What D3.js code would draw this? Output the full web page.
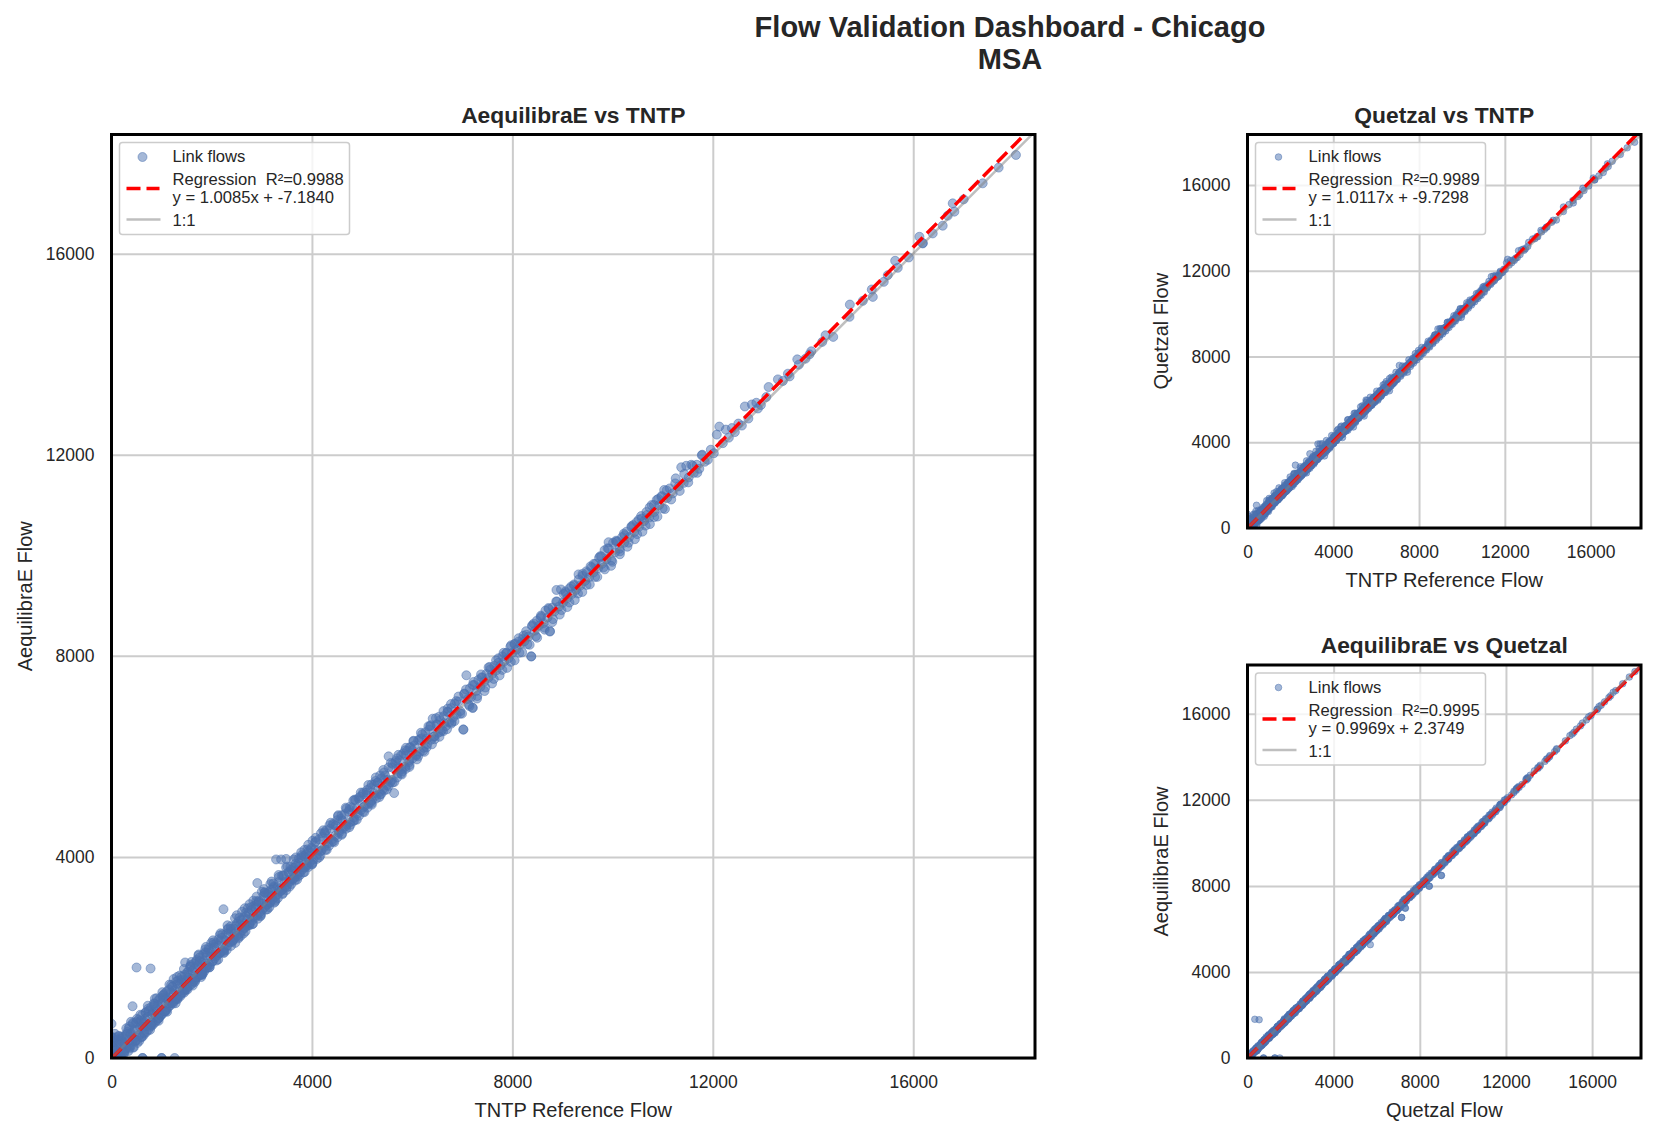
<!DOCTYPE html>
<html>
<head>
<meta charset="utf-8">
<script src="https://cdnjs.cloudflare.com/ajax/libs/d3/7.8.5/d3.min.js"></script>
<style>
  html, body { margin: 0; padding: 0; background: #fff; }
  text { font-family: "Liberation Sans", Arial, sans-serif; fill: #262626; white-space: pre; }
</style>
</head>
<body>
<svg id="chart" width="1655" height="1136"></svg>
<script>
// flows, one entry per link, same order in all three lists
var tntpFlow = [
  10, 30, 45, 60, 80, 95, 110, 130, 150, 165,
  180, 195, 215, 230, 250, 265, 285, 300, 320, 340,
  355, 375, 390, 410, 430, 445, 465, 480, 500, 520,
  535, 555, 570, 590, 610, 625, 645, 660, 680, 700,
  715, 735, 750, 770, 790, 805, 825, 840, 860, 880,
  895, 915, 930, 950, 970, 985, 1005, 1020, 1040, 1060,
  1075, 1095, 1110, 1130, 1150, 1165, 1185, 1200, 1220, 1240,
  1255, 1275, 1290, 1310, 1330, 1345, 1365, 1380, 1400, 1420,
  1435, 1455, 1470, 1490, 1510, 1525, 1545, 1560, 1580, 1600,
  1615, 1635, 1650, 1670, 1690, 1705, 1725, 1740, 1760, 1780,
  1795, 1815, 1830, 1850, 1870, 1885, 1905, 1920, 1940, 1960,
  1985, 2010, 2035, 2060, 2085, 2110, 2135, 2160, 2185, 2210,
  2235, 2260, 2285, 2310, 2335, 2360, 2385, 2410, 2435, 2460,
  2485, 2510, 2535, 2560, 2585, 2610, 2635, 2660, 2685, 2710,
  2735, 2760, 2785, 2810, 2835, 2860, 2885, 2910, 2935, 2960,
  2985, 3010, 3035, 3060, 3085, 3110, 3135, 3160, 3185, 3210,
  3235, 3260, 3285, 3310, 3335, 3360, 3385, 3410, 3435, 3460,
  3485, 3510, 3535, 3560, 3585, 3610, 3635, 3660, 3685, 3710,
  3735, 3760, 3785, 3810, 3835, 3860, 3885, 3910, 3935, 3960,
  3990, 4030, 4065, 4100, 4140, 4175, 4210, 4250, 4285, 4320,
  4360, 4395, 4430, 4470, 4505, 4540, 4580, 4615, 4650, 4690,
  4725, 4760, 4800, 4835, 4870, 4910, 4945, 4980, 5020, 5055,
  5090, 5130, 5165, 5200, 5240, 5275, 5310, 5350, 5385, 5420,
  5460, 5495, 5530, 5570, 5605, 5640, 5680, 5715, 5750, 5790,
  5825, 5860, 5900, 5935, 5970, 6010, 6045, 6080, 6120, 6155,
  6190, 6230, 6265, 6300, 6340, 6375, 6410, 6450, 6485, 6520,
  6560, 6595, 6630, 6670, 6705, 6740, 6780, 6815, 6850, 6890,
  6925, 6960, 7022, 7022, 7040, 7082, 7110, 7150, 7208, 7208,
  7180, 7240, 7280, 7320, 7360, 7400, 7440, 7480, 7520, 7560,
  7600, 7640, 7680, 7720, 7760, 7800, 7840, 7880, 7920, 7960,
  8000, 8040, 8080, 8120, 8160, 8200, 8240, 8280, 8320, 8377,
  8377, 8400, 8450, 8490, 8530, 8570, 8620, 8660, 8700, 8750,
  8750, 8800, 8840, 8880, 8930, 8970, 9010, 9060, 9100, 9140,
  9190, 9230, 9270, 9320, 9360, 9400, 9450, 9490, 9530, 9580,
  9620, 9660, 9710, 9750, 9790, 9840, 9880, 9920, 9970, 10010,
  10050, 10100, 10140, 10190, 10230, 10280, 10330, 10380, 10430, 10480,
  10530, 10580, 10630, 10680, 10730, 10780, 10830, 10880, 10930, 10980,
  11030, 11090, 11140, 11200, 11260, 11320, 11370, 11420, 11470, 11520,
  11570, 11620, 11680, 11730, 11790, 11840, 11900, 11960, 12020, 12080,
  12130, 12200, 12260, 12320, 12380, 12440, 12510, 12580, 12640, 12710,
  12780, 12869, 12900, 12960, 13068, 13114, 13299, 13399, 13499, 13533,
  13686, 13718, 13851, 13931, 13965, 14184, 14250, 14403, 14728, 14735,
  14994, 15173, 15193, 15412, 15492, 15639, 15691, 15911, 16123, 16190,
  16190, 16389, 16588, 16688, 16788, 16821, 17007, 17386, 17705, 18050,
  0, 0, 500, 780, 620, 1000, 1260, 420, 620, 1000,
  // links on the edges of the band
  40, 120, 210, 300, 390, 470, 560, 640, 730, 810,
  900, 980, 1070, 1150, 1240, 1320, 1400, 1490, 1570, 1660,
  1740, 1820, 1910, 1990, 2080, 2160, 2240, 2330, 2410, 2500,
  2580, 2660, 2750, 2830, 2920, 3000, 3080, 3170, 3250, 3340,
  3420, 3510, 3590, 3680, 3760, 3850, 3930, 4010, 4100, 4180,
  4270, 4350, 4430, 4520, 4600, 4690, 4770, 4850, 4940, 5020,
  5110, 5190, 5280, 5360, 5440, 5530, 5610, 5700, 5780, 5860,
  5950, 6030, 6120, 6200, 6290, 6370, 6450, 6540, 6620, 6710,
  6790, 6880, 6960, 7040, 7130, 7210, 7300, 7380, 7460, 7550,
  7630, 7720, 7800, 7880, 7970, 8050, 8140, 8220, 8300, 8390,
  8470, 8560, 8640, 8720, 8810, 8890, 8980, 9060, 9140, 9230,
  9310, 9400, 9480, 9560, 9650, 9730, 9820, 9900, 9980, 10070,
  10150, 10240, 10320, 10410, 10490, 10570, 10660, 10740, 10830, 10910,
  11000, 11080, 11170, 11250, 11340, 11430, 11510, 11600, 11690, 11780,
  70, 160, 250, 340, 430, 510, 600, 680, 770, 850,
  940, 1020, 1110, 1190, 1280, 1360, 1450, 1530, 1620, 1700,
  1790, 1870, 1960, 2040, 2130, 2210, 2300, 2380, 2470, 2550,
  2640, 2720, 2810, 2890, 2980, 3060, 3150, 3230, 3320, 3400,
  3490, 3570, 3660, 3740, 3830, 3910, 4000, 4080, 4170, 4250,
  4340, 4420, 4510, 4590, 4680, 4760, 4850, 4930, 5020, 5100,
  5190, 5270, 5360, 5440, 5530, 5610, 5700, 5780, 5870, 5950,
  // the dense low end
  5, 25, 15, 50, 70, 100, 35, 140, 190, 220,
  20, 55, 90, 125, 175, 205, 240, 275, 310, 345,
  380, 415, 450, 485, 525, 560, 595, 630, 665, 705,
  740, 775, 810, 845, 885, 920, 955, 990, 1030, 1065,
  1100, 1135, 1175, 1210, 1245, 1285, 1320, 1355, 1395, 1430,
  1465, 1505, 1540, 1575, 1615, 1650, 1685, 1725, 1760, 1795,
  1835, 1870, 1905, 1945, 1980, 2020, 2055, 2090, 2130, 2165,
  2200, 2240, 2275, 2315, 2350, 2385, 2425, 2460, 2500, 2535,
  2570, 2610, 2645, 2685, 2720, 2755, 2795, 2830, 2870, 2905,
  2940, 2980, 3015, 3055, 3090, 3125, 3165, 3200, 3240, 3275,
  3310, 3350, 3385, 3425, 3460, 3495, 3535, 3570, 3610, 3645,
  3680, 3720, 3755, 3795, 3830, 3865, 3905, 3940, 3980, 4015,
  4050, 4120, 4190, 4260, 4330, 4400, 4470, 4540, 4610, 4680,
  4750, 4820, 4890, 4960, 5030, 5100, 5170, 5240, 5310, 5380,
  5450, 5520, 5590, 5660, 5730, 5800, 5870, 5940, 6010, 6080,
  6150, 6220, 6290, 6360, 6430, 6500, 6570, 6640, 6710, 6780,
  // outer fringe
  15, 85, 145, 235, 295, 365, 425, 505, 575, 645,
  725, 795, 865, 935, 1015, 1085, 1155, 1225, 1305, 1375,
  1445, 1515, 1595, 1665, 1735, 1805, 1885, 1955, 2025, 2095,
  2175, 2245, 2315, 2385, 2465, 2535, 2605, 2675, 2755, 2825,
  2895, 2975, 3045, 3115, 3195, 3265, 3335, 3415, 3485, 3555,
  3635, 3705, 3785, 3855, 3925, 4005, 4075, 4145, 4225, 4295,
  4375, 4445, 4525, 4595, 4675, 4745, 4825, 4895, 4975, 5045,
  5125, 5195, 5275, 5345, 5425, 5495, 5575, 5645, 5725, 5795,
  5875, 5945, 6025, 6095, 6175, 6245, 6325, 6395, 6475, 6545,
  6625, 6695, 6775, 6845, 6925, 6995, 7075, 7145, 7225, 7295,
  7375, 7445, 7525, 7595, 7675, 7745, 7825, 7895, 7975, 8045,
  8125, 8195, 8275, 8345, 8425, 8495, 8575, 8645, 8725, 8795,
  8875, 8945, 9025, 9095, 9175, 9245, 9325, 9395, 9475, 9545,
  9625, 9695, 9775, 9845, 9925, 9995, 10075, 10145, 10225, 10295,
  10375, 10445, 10525, 10595, 10675, 10745, 10825, 10895, 10975, 11045
];
var aequilibraeFlow = [
  230, 140, 20, 190, 60, 300, 35, 250, 90, 330,
  60, 380, 150, 410, 110, 290, 460, 200, 520, 140,
  630, 230, 500, 320, 680, 210, 560, 350, 720, 300,
  760, 340, 610, 420, 850, 430, 720, 480, 900, 520,
  820, 560, 950, 620, 1010, 640, 900, 680, 1080, 720,
  980, 760, 1140, 800, 1190, 850, 1100, 880, 1260, 930,
  1180, 960, 1330, 1010, 1360, 1040, 1290, 1090, 1420, 1120,
  1350, 1160, 1520, 1180, 1540, 1240, 1480, 1260, 1620, 1300,
  1540, 1340, 1900, 1360, 1700, 1420, 1680, 1440, 1850, 1470,
  1730, 1520, 1880, 1540, 1920, 1600, 1850, 1640, 2000, 1660,
  1900, 1700, 2060, 1720, 2100, 1780, 2040, 1800, 2190, 1850,
  2110, 1920, 2260, 1980, 2280, 2040, 2360, 2080, 2330, 2130,
  2960, 2180, 2470, 2230, 2480, 2300, 2570, 2330, 2570, 2390,
  2630, 2430, 2720, 2470, 2740, 2540, 2800, 2590, 2830, 2630,
  2880, 2690, 3000, 2740, 3020, 2790, 3050, 3480, 3100, 2900,
  3120, 2950, 3230, 3000, 3270, 3050, 3300, 3100, 3350, 3150,
  3380, 3200, 3950, 3250, 3500, 3310, 3950, 3350, 3620, 3400,
  3960, 3450, 3700, 3510, 3750, 3550, 3780, 3600, 3820, 3650,
  3880, 3700, 3990, 3750, 4020, 3790, 4050, 3850, 4120, 3900,
  4180, 3950, 4290, 4040, 4350, 4110, 4400, 4200, 4530, 4270,
  4560, 4340, 4640, 4420, 4730, 4480, 4760, 4560, 4850, 4640,
  4900, 4690, 4980, 4780, 5130, 4860, 5130, 4930, 5250, 5010,
  5280, 5060, 5370, 5130, 5440, 5220, 5480, 5290, 5560, 5350,
  5620, 5420, 6000, 5490, 5780, 5270, 5910, 5660, 5920, 5740,
  6060, 5790, 6110, 5880, 6180, 5960, 6220, 6030, 6320, 6090,
  6360, 6170, 6480, 6240, 6530, 6330, 6750, 6400, 6640, 6470,
  6720, 6520, 6800, 6600, 6890, 6680, 6960, 6770, 7050, 6830,
  7090, 6900, 6537, 6530, 7240, 7613, 7140, 7350, 6962, 6970,
  7180, 7420, 7300, 7520, 7380, 7570, 7490, 7640, 7560, 7730,
  7640, 7800, 7710, 7950, 7810, 7990, 7890, 8060, 7950, 8180,
  8060, 8230, 8120, 8280, 8230, 8330, 8290, 8420, 8380, 7992,
  7985, 8610, 8500, 8700, 8600, 8800, 8650, 8900, 8760, 8483,
  8490, 8960, 8880, 9310, 8980, 9320, 9060, 9250, 9150, 9340,
  9230, 9400, 9310, 9620, 9400, 9630, 9490, 9650, 9560, 9760,
  9660, 9830, 9740, 9980, 9830, 10100, 9920, 10260, 9790, 10250,
  10060, 10280, 10130, 10360, 10250, 10470, 10360, 10580, 10460, 10660,
  10570, 10730, 10680, 10800, 10750, 11000, 10860, 11100, 11000, 11180,
  11300, 11140, 11330, 11230, 11530, 11370, 11750, 11440, 11780, 11550,
  11800, 11640, 11800, 11720, 12000, 11860, 11900, 12100, 12030, 12400,
  12560, 12230, 12500, 12340, 12530, 12450, 12620, 12580, 12960, 12720,
  13000, 13034, 12920, 12990, 13148, 13347, 13499, 13467, 13612, 13558,
  13897, 13792, 13911, 13997, 14057, 14244, 14376, 14344, 14743, 14987,
  15061, 15287, 15140, 15439, 15572, 15858, 15719, 15924, 16336, 16203,
  16210, 16402, 16556, 16755, 17000, 16835, 17080, 17399, 17712, 17963,
  680, 420, 1800, 1780, 0, 0, 0, 1030, 0, 0,
  // links on the edges of the band
  330, 20, 430, 210, 720, 330, 720, 690, 980, 710,
  1190, 840, 1290, 1090, 1570, 1170, 1560, 1530, 1820, 1560,
  2060, 1670, 2100, 2290, 2030, 2440, 2100, 2580, 2310, 2840,
  2430, 2980, 2640, 3130, 2770, 3310, 2950, 3460, 3090, 3600,
  3280, 3810, 3460, 3990, 3640, 4140, 3800, 4320, 3960, 4470,
  4140, 4630, 4310, 4810, 4460, 4960, 4640, 5140, 4820, 5280,
  4980, 5440, 5160, 5620, 5320, 5780, 5480, 5960, 5660, 6120,
  5830, 6300, 6000, 6440, 6180, 6620, 6340, 6790, 6500, 6950,
  6680, 7100, 6850, 7250, 7030, 7420, 7200, 7570, 7370, 7780,
  7540, 7860, 7720, 8050, 7880, 8240, 8060, 8400, 8230, 8590,
  8390, 8750, 8560, 8950, 8730, 9080, 8910, 9280, 9060, 9420,
  9240, 9590, 9410, 9780, 9570, 9950, 9760, 10140, 9900, 10290,
  10080, 10400, 10250, 10600, 10420, 10780, 10590, 10950, 10760, 11120,
  10930, 11290, 11110, 11430, 11280, 11620, 11450, 11780, 11640, 11990,
  480, 260, 90, 580, 210, 780, 410, 910, 560, 1040,
  740, 1240, 920, 1450, 1090, 1640, 1300, 1720, 1440, 1950,
  1610, 2160, 1810, 2300, 1960, 2460, 2150, 2620, 2290, 2790,
  2480, 2980, 2660, 3120, 2840, 3290, 3000, 3470, 3180, 3630,
  3340, 3800, 3530, 3970, 3690, 4150, 3860, 4310, 4030, 4490,
  4220, 4660, 4390, 4830, 4560, 5000, 4730, 5170, 4900, 5330,
  5070, 5510, 5240, 5680, 5410, 5850, 5580, 6020, 5750, 6180,
  // the dense low end
  60, 90, 340, 30, 410, 110, 0, 430, 20, 300,
  210, 15, 150, 365, 135, 335, 160, 295, 480, 215,
  470, 425, 390, 695, 565, 460, 745, 610, 775, 635,
  930, 665, 870, 1085, 845, 1050, 875, 1010, 1200, 935,
  1190, 1145, 1115, 1420, 1285, 1185, 1470, 1335, 1505, 1360,
  1655, 1395, 1600, 1815, 1575, 1780, 1605, 1745, 1930, 1665,
  1925, 1880, 1845, 2155, 2020, 1920, 2205, 2070, 2240, 2095,
  2390, 2130, 2335, 2555, 2310, 2515, 2345, 2480, 2670, 2405,
  2660, 2620, 2585, 2895, 2760, 2655, 2945, 2810, 2980, 2835,
  3130, 2870, 3075, 3295, 3050, 3255, 3085, 3220, 3410, 3145,
  3400, 3360, 3325, 3635, 3500, 3395, 3685, 3550, 3720, 3575,
  3870, 3610, 3815, 4035, 3790, 3995, 3825, 3960, 4150, 3885,
  4140, 4130, 4130, 4470, 4370, 4300, 4620, 4520, 4720, 4610,
  4940, 4710, 4950, 5200, 4990, 5230, 5090, 5260, 5480, 5250,
  5540, 5530, 5530, 5870, 5770, 5700, 6020, 5920, 6120, 6010,
  6340, 6110, 6350, 6600, 6390, 6630, 6490, 6660, 6880, 6650,
  // outer fringe
  400, 0, 440, 120, 590, 190, 700, 350, 860, 500,
  1040, 660, 1180, 790, 1310, 930, 1460, 1080, 1610, 1230,
  1770, 1360, 1910, 1510, 2040, 1650, 2210, 1800, 2340, 1940,
  2480, 2090, 2640, 2230, 2780, 2380, 2910, 2520, 3060, 2670,
  3210, 2820, 3360, 2960, 3510, 3110, 3640, 3260, 3790, 3410,
  3950, 3550, 4090, 3700, 4240, 3850, 4380, 3990, 4530, 4140,
  4680, 4290, 4830, 4440, 4980, 4590, 5120, 4740, 5280, 4890,
  5430, 5040, 5580, 5190, 5730, 5340, 5870, 5490, 6030, 5640,
  6170, 5790, 6310, 5940, 6470, 6090, 6600, 6240, 6760, 6390,
  6900, 6540, 7040, 6700, 7190, 6850, 7330, 7000, 7480, 7150,
  7630, 7300, 7770, 7450, 7910, 7610, 8060, 7760, 8210, 7910,
  8350, 8070, 8490, 8220, 8640, 8360, 8780, 8520, 8930, 8670,
  9080, 8820, 9230, 8970, 9380, 9110, 9520, 9270, 9680, 9420,
  9830, 9570, 9980, 9720, 10130, 9870, 10270, 10020, 10430, 10170,
  10560, 10320, 10710, 10470, 10860, 10620, 11000, 10770, 11160, 10920
];
var quetzalFlow = [
  250, 120, 40, 170, 80, 270, 60, 230, 110, 300,
  90, 350, 180, 380, 130, 320, 430, 230, 490, 170,
  600, 260, 470, 350, 650, 240, 530, 380, 690, 330,
  730, 370, 640, 390, 820, 460, 750, 450, 870, 550,
  790, 590, 920, 650, 980, 670, 930, 650, 1050, 750,
  1010, 790, 1110, 830, 1160, 880, 1130, 910, 1230, 960,
  1210, 990, 1300, 1040, 1330, 1070, 1320, 1120, 1390, 1150,
  1380, 1190, 1490, 1210, 1510, 1270, 1510, 1290, 1590, 1330,
  1570, 1370, 1870, 1390, 1670, 1450, 1710, 1470, 1820, 1500,
  1760, 1550, 1850, 1570, 1890, 1630, 1880, 1670, 1970, 1690,
  1930, 1730, 2030, 1750, 2070, 1810, 2070, 1830, 2160, 1880,
  2140, 1950, 2230, 2010, 2310, 2070, 2330, 2110, 2360, 2160,
  2930, 2210, 2440, 2260, 2510, 2330, 2540, 2360, 2600, 2420,
  2660, 2460, 2690, 2500, 2710, 2570, 2830, 2620, 2800, 2660,
  2910, 2720, 2970, 2770, 3050, 2820, 3020, 3460, 3070, 2930,
  3150, 2980, 3200, 3030, 3240, 3080, 3330, 3130, 3320, 3180,
  3410, 3230, 3920, 3280, 3470, 3340, 3920, 3380, 3590, 3430,
  3930, 3480, 3670, 3540, 3720, 3580, 3810, 3630, 3790, 3680,
  3910, 3730, 3960, 3780, 3990, 3820, 4080, 3880, 4090, 3930,
  4210, 3980, 4260, 4070, 4320, 4140, 4430, 4230, 4500, 4300,
  4590, 4370, 4610, 4450, 4700, 4510, 4790, 4590, 4820, 4670,
  4930, 4720, 4950, 4810, 5100, 4890, 5160, 4960, 5220, 5040,
  5310, 5090, 5340, 5160, 5410, 5250, 5510, 5320, 5530, 5380,
  5650, 5450, 5970, 5520, 5750, 5700, 5880, 5690, 5950, 5770,
  6030, 5820, 6080, 5910, 6150, 5990, 6250, 6060, 6290, 6120,
  6390, 6200, 6450, 6270, 6500, 6360, 6720, 6430, 6610, 6500,
  6750, 6550, 6770, 6630, 6860, 6710, 6990, 6800, 7020, 6860,
  7060, 6930, 7150, 7160, 7210, 7580, 7170, 7320, 7330, 7320,
  7210, 7390, 7330, 7490, 7410, 7540, 7520, 7610, 7590, 7700,
  7670, 7770, 7740, 7920, 7840, 7960, 7920, 8030, 7980, 8150,
  8090, 8200, 8150, 8250, 8260, 8300, 8320, 8390, 8410, 8440,
  8435, 8580, 8530, 8670, 8630, 8770, 8680, 8870, 8790, 9000,
  9000, 8930, 8910, 9280, 9010, 9290, 9090, 9220, 9180, 9310,
  9260, 9370, 9340, 9590, 9430, 9600, 9520, 9620, 9590, 9730,
  9690, 9800, 9770, 9950, 9860, 10070, 9950, 10230, 9820, 10220,
  10090, 10250, 10160, 10330, 10280, 10440, 10390, 10550, 10490, 10630,
  10600, 10700, 10710, 10770, 10780, 10970, 10890, 11070, 11030, 11150,
  11270, 11170, 11300, 11260, 11500, 11400, 11720, 11470, 11750, 11580,
  11770, 11670, 11770, 11750, 11970, 11890, 11930, 12070, 12060, 12370,
  12530, 12260, 12470, 12370, 12500, 12480, 12590, 12610, 12930, 12750,
  12970, 13010, 12950, 13020, 13130, 13320, 13480, 13490, 13590, 13580,
  13880, 13810, 13930, 14020, 14040, 14260, 14350, 14360, 14760, 14970,
  15080, 15270, 15160, 15460, 15550, 15840, 15740, 15950, 16320, 16230,
  16240, 16420, 16580, 16780, 16980, 16860, 17100, 17420, 17730, 17990,
  640, 400, 340, 540, 745, 1270, 1500, 1060, 745, 1270,
  // links on the edges of the band
  420, 60, 470, 110, 780, 440, 680, 770, 870, 740,
  1280, 770, 1330, 990, 1630, 1280, 1520, 1610, 1710, 1590,
  2000, 1760, 2060, 2380, 1930, 2500, 2220, 2540, 2420, 2780,
  2530, 2900, 2570, 3040, 2880, 3230, 3040, 3400, 3200, 3700,
  3390, 3730, 3360, 4080, 3720, 4050, 3910, 4250, 4060, 4540,
  4230, 4710, 4220, 4730, 4570, 5040, 4740, 5060, 4710, 5350,
  5090, 5360, 5260, 5700, 5220, 5860, 5580, 5870, 5770, 6040,
  5920, 6210, 6110, 6360, 6280, 6540, 6450, 6710, 6400, 7030,
  6770, 7030, 6950, 7180, 7120, 7350, 7300, 7500, 7270, 7700,
  7630, 7800, 7810, 7980, 7970, 8170, 8150, 8330, 8320, 8520,
  8480, 8680, 8650, 8880, 8820, 9010, 9000, 9210, 9150, 9350,
  9330, 9520, 9500, 9710, 9660, 9880, 9850, 10070, 9990, 10220,
  10170, 10340, 10340, 10530, 10510, 10710, 10680, 10880, 10850, 11050,
  11020, 11220, 11190, 11360, 11360, 11550, 11530, 11720, 11720, 11920,
  530, 210, 170, 640, 130, 830, 480, 850, 640, 980,
  830, 1180, 1010, 1390, 1170, 1700, 1380, 1670, 1530, 1900,
  1700, 2100, 1900, 2240, 2050, 2530, 2230, 2560, 2380, 2730,
  2570, 2930, 2750, 3060, 2930, 3340, 3090, 3410, 3270, 3570,
  3430, 3740, 3620, 3910, 3780, 4090, 3950, 4250, 4120, 4430,
  4310, 4600, 4480, 4770, 4650, 4940, 4820, 5110, 4990, 5270,
  5160, 5450, 5330, 5620, 5500, 5790, 5670, 5960, 5840, 6120,
  // the dense low end
  40, 110, 290, 50, 360, 130, 10, 390, 40, 250,
  170, 20, 190, 325, 65, 265, 210, 365, 430, 285,
  410, 495, 470, 645, 485, 510, 665, 690, 715, 585,
  890, 685, 910, 1045, 775, 980, 925, 1080, 1150, 1005,
  1130, 1215, 1195, 1370, 1205, 1235, 1390, 1415, 1445, 1310,
  1615, 1415, 1640, 1775, 1505, 1710, 1655, 1815, 1880, 1735,
  1865, 1950, 1925, 2105, 1940, 1970, 2125, 2150, 2180, 2045,
  2350, 2150, 2375, 2515, 2240, 2445, 2395, 2550, 2620, 2475,
  2600, 2690, 2665, 2845, 2680, 2705, 2865, 2890, 2920, 2785,
  3090, 2890, 3115, 3255, 2980, 3185, 3135, 3290, 3360, 3215,
  3340, 3430, 3405, 3585, 3420, 3445, 3605, 3630, 3660, 3525,
  3830, 3630, 3855, 3995, 3720, 3925, 3875, 4030, 4100, 3955,
  4080, 4200, 4210, 4420, 4290, 4350, 4540, 4600, 4660, 4560,
  4900, 4730, 4990, 5160, 4920, 5160, 5140, 5330, 5430, 5320,
  5480, 5600, 5610, 5820, 5690, 5750, 5940, 6000, 6060, 5960,
  6300, 6130, 6390, 6560, 6320, 6560, 6540, 6730, 6830, 6720,
  // outer fringe
  470, 30, 380, 70, 650, 250, 640, 430, 790, 570,
  970, 730, 1110, 860, 1380, 1010, 1390, 1150, 1540, 1300,
  1700, 1430, 1840, 1590, 2110, 1730, 2140, 1880, 2270, 2020,
  2550, 2170, 2570, 2310, 2850, 2450, 2840, 2600, 3130, 2750,
  3140, 2900, 3290, 3040, 3580, 3190, 3570, 3340, 3720, 3490,
  3880, 3630, 4020, 3780, 4310, 3930, 4310, 4070, 4600, 4220,
  4750, 4370, 4760, 4520, 5050, 4670, 5050, 4820, 5350, 4970,
  5360, 5120, 5650, 5270, 5660, 5420, 5940, 5570, 6100, 5720,
  6100, 5870, 6380, 6020, 6400, 6170, 6670, 6320, 6830, 6470,
  6970, 6620, 6970, 6780, 7260, 6930, 7260, 7080, 7550, 7230,
  7560, 7380, 7840, 7530, 7840, 7690, 8130, 7840, 8280, 7990,
  8420, 8150, 8420, 8300, 8710, 8440, 8710, 8600, 9000, 8750,
  9010, 8900, 9300, 9050, 9310, 9190, 9590, 9350, 9610, 9500,
  9900, 9650, 9910, 9800, 10200, 9950, 10200, 10100, 10500, 10250,
  10630, 10400, 10640, 10550, 10930, 10700, 10930, 10850, 11230, 11000
];

var tickValues = [0, 4000, 8000, 12000, 16000];
var blue = "#4c72b0";

var svg = d3.select("#chart");

// title
svg.append("text").attr("x", 1010).attr("y", 37).attr("text-anchor", "middle")
  .style("font-size", "29px").style("font-weight", "bold").text("Flow Validation Dashboard - Chicago");
svg.append("text").attr("x", 1010).attr("y", 68.5).attr("text-anchor", "middle")
  .style("font-size", "29px").style("font-weight", "bold").text("MSA");

var drawPanel = function(p) {
  var w = p.right - p.left, h = p.bottom - p.top;
  var x = d3.scaleLinear().domain([0, p.maxX]).range([p.left, p.right]);
  var y = d3.scaleLinear().domain([0, p.maxY]).range([p.bottom, p.top]);
  var clipId = "clip" + p.id;

  svg.append("clipPath").attr("id", clipId).append("rect")
    .attr("x", p.left).attr("y", p.top).attr("width", w).attr("height", h);

  // grid lines come from the axes, labels get their own axes below
  var gridX = svg.append("g").attr("transform", "translate(0," + p.bottom + ")")
    .call(d3.axisBottom(x).tickValues(tickValues).tickSize(-h).tickFormat(""));
  var gridY = svg.append("g").attr("transform", "translate(" + p.left + ",0)")
    .call(d3.axisLeft(y).tickValues(tickValues).tickSize(-w).tickFormat(""));
  [gridX, gridY].forEach(function(g) {
    g.select(".domain").remove();
    g.selectAll("line").attr("stroke", "#cccccc").attr("stroke-width", 2);
  });

  var plot = svg.append("g").attr("clip-path", "url(#" + clipId + ")");

  plot.selectAll("circle").data(d3.range(tntpFlow.length)).enter().append("circle")
    .attr("cx", function(i) { return x(p.xs[i]); })
    .attr("cy", function(i) { return y(p.ys[i]); })
    .attr("r", p.r)
    .attr("fill", blue).attr("fill-opacity", 0.5)
    .attr("stroke", blue).attr("stroke-opacity", 0.5).attr("stroke-width", 1);

  var line = d3.line().x(function(d) { return x(d); });

  // regression
  plot.append("path").datum([0, p.maxX])
    .attr("d", line.y(function(d) { return y(p.slope * d + p.intercept); }))
    .attr("fill", "none").attr("stroke", "#ff0000").attr("stroke-width", 3.5)
    .attr("stroke-dasharray", "14,6");

  // 1:1
  plot.append("path").datum([0, p.maxX])
    .attr("d", line.y(function(d) { return y(d); }))
    .attr("fill", "none").attr("stroke", "#808080").attr("stroke-opacity", 0.5).attr("stroke-width", 2.5);

  // spines
  svg.append("rect").attr("x", p.left).attr("y", p.top).attr("width", w).attr("height", h)
    .attr("fill", "none").attr("stroke", "#000").attr("stroke-width", 3);

  // tick labels
  var axX = svg.append("g").attr("transform", "translate(0," + p.bottom + ")")
    .call(d3.axisBottom(x).tickValues(tickValues).tickSize(0).tickPadding(18).tickFormat(d3.format("d")));
  var axY = svg.append("g").attr("transform", "translate(" + p.left + ",0)")
    .call(d3.axisLeft(y).tickValues(tickValues).tickSize(0).tickPadding(17).tickFormat(d3.format("d")));
  [axX, axY].forEach(function(g) {
    g.select(".domain").remove();
    g.selectAll("text").style("font-size", "17.5px");
    g.attr("font-family", null).attr("font-size", null);
  });

  svg.append("text").attr("x", (p.left + p.right) / 2).attr("y", p.top - 12).attr("text-anchor", "middle")
    .style("font-size", "22.8px").style("font-weight", "bold").text(p.title);
  svg.append("text").attr("x", (p.left + p.right) / 2).attr("y", p.bottom + 59).attr("text-anchor", "middle")
    .style("font-size", "20px").text(p.xLabel);
  svg.append("text").attr("transform", "translate(" + (p.left - 80) + "," + ((p.top + p.bottom) / 2) + ") rotate(-90)")
    .attr("text-anchor", "middle").style("font-size", "20px").text(p.yLabel);

  // legend
  var lg = svg.append("g").attr("transform", "translate(" + (p.left + 8) + "," + (p.top + 8) + ")");
  lg.append("rect").attr("width", 230).attr("height", 92).attr("rx", 3)
    .attr("fill", "#fff").attr("fill-opacity", 0.8).attr("stroke", "#cccccc").attr("stroke-width", 1.5);
  lg.append("circle").attr("cx", 23).attr("cy", 14.5).attr("r", p.r)
    .attr("fill", blue).attr("fill-opacity", 0.5).attr("stroke", blue).attr("stroke-opacity", 0.5);
  lg.append("line").attr("x1", 7).attr("x2", 40).attr("y1", 46).attr("y2", 46)
    .attr("stroke", "#ff0000").attr("stroke-width", 3.5).attr("stroke-dasharray", "14,6");
  lg.append("line").attr("x1", 7).attr("x2", 41).attr("y1", 77).attr("y2", 77)
    .attr("stroke", "#808080").attr("stroke-opacity", 0.5).attr("stroke-width", 2.5);
  var legendText = function(y, s) {
    lg.append("text").attr("x", 53).attr("y", y).style("font-size", "16.6px").text(s);
  };
  legendText(19.5, "Link flows");
  legendText(42.5, "Regression  R\u00b2=" + p.r2);
  legendText(60.5, p.eqn);
  legendText(83.5, "1:1");
};

drawPanel({
  id: "a", left: 111.5, right: 1035, top: 134.5, bottom: 1058, maxX: 18430, maxY: 18370, r: 4.5,
  xs: tntpFlow, ys: aequilibraeFlow, slope: 1.0085, intercept: -7.184,
  title: "AequilibraE vs TNTP", xLabel: "TNTP Reference Flow", yLabel: "AequilibraE Flow",
  r2: "0.9988", eqn: "y = 1.0085x + -7.1840"
});
drawPanel({
  id: "b", left: 1247.5, right: 1641, top: 134.5, bottom: 528, maxX: 18350, maxY: 18350, r: 3.3,
  xs: tntpFlow, ys: quetzalFlow, slope: 1.0117, intercept: -9.7298,
  title: "Quetzal vs TNTP", xLabel: "TNTP Reference Flow", yLabel: "Quetzal Flow",
  r2: "0.9989", eqn: "y = 1.0117x + -9.7298"
});
drawPanel({
  id: "c", left: 1247.5, right: 1641, top: 665, bottom: 1058, maxX: 18270, maxY: 18270, r: 3.3,
  xs: quetzalFlow, ys: aequilibraeFlow, slope: 0.9969, intercept: 2.3749,
  title: "AequilibraE vs Quetzal", xLabel: "Quetzal Flow", yLabel: "AequilibraE Flow",
  r2: "0.9995", eqn: "y = 0.9969x + 2.3749"
});
</script>
</body>
</html>
